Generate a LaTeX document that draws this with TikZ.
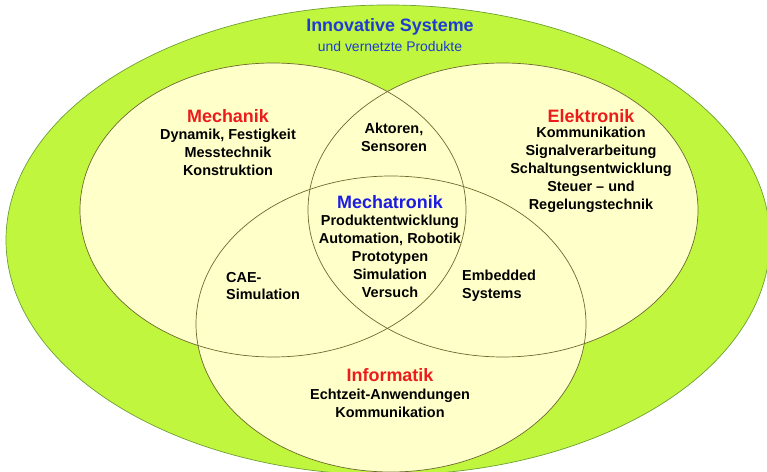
\documentclass[tikz,border=0pt]{standalone}
\usepackage{fontspec}
\setmainfont{Liberation Sans}
\usepackage{tikz}
\usetikzlibrary{shapes,backgrounds}

\definecolor{lime}{RGB}{192,246,62}
\definecolor{limeline}{RGB}{110,160,50}
\definecolor{cream}{RGB}{255,255,202}
\definecolor{olive}{RGB}{110,105,45}
\definecolor{titlered}{RGB}{236,28,28}
\definecolor{titleblue}{RGB}{28,28,226}
\definecolor{topblue}{RGB}{30,60,210}

\tikzset{
	field/.style={fill=cream},
	rim/.style={draw=olive,line width=0.7pt},
	head/.style={font=\fontsize{18}{21}\selectfont\bfseries,text=titlered,inner sep=0pt},
	body/.style={font=\fontsize{14.5}{18}\selectfont\bfseries,align=center,inner sep=0pt}
}

\begin{document}
\begin{tikzpicture}[x=1bp,y=-1bp]
		\useasboundingbox (0,0) rectangle (767,472);
		\clip (0,0) rectangle (767,472);

		% outer field
		\draw [fill=lime,draw=limeline,line width=0.7pt] (388,240) ellipse [x radius=382, y radius=235];

		% the three disciplines
		\fill [field] (273,210) ellipse [x radius=193, y radius=147];
		\fill [field] (503,210) ellipse [x radius=195, y radius=147];
		\fill [field] (391,324) ellipse [x radius=195, y radius=148];
		\draw [rim] (273,210) ellipse [x radius=193, y radius=147];
		\draw [rim] (503,210) ellipse [x radius=195, y radius=147];
		\draw [rim] (391,324) ellipse [x radius=195, y radius=148];

		\node [head,text=topblue] (innov) at (390,27) {Innovative Systeme};
		\node [font=\fontsize{14}{16}\selectfont,text=topblue,inner sep=0pt] (vernetzt) at (390,47) {und vernetzte Produkte};

		\node [head] (mech) at (228,116) {Mechanik};
		\node [body] (mechtxt) at (228,152) {Dynamik, Festigkeit\\Messtechnik\\Konstruktion};

		\node [head] (elek) at (591,116) {Elektronik};
		\node [body] (elektxt) at (591,170) {Kommunikation\\Signalverarbeitung\\Schaltungsentwicklung\\Steuer -- und\\Regelungstechnik};

		\node [body] (aktor) at (394,137) {Aktoren,\\Sensoren};

		\node [head,text=titleblue] (mechatr) at (390,202) {Mechatronik};
		\node [body] (mechatrtxt) at (390,256) {Produktentwicklung\\Automation, Robotik\\Prototypen\\Simulation\\Versuch};

		\node [body,align=left,anchor=west] (cae) at (226,286) {CAE-\\Simulation};
		\node [body,align=left,anchor=west] (embed) at (462,286) {Embedded\\Systems};

		\node [head] (info) at (390,375) {Informatik};
		\node [body] (infotxt) at (390,403) {Echtzeit-Anwendungen\\Kommunikation};
	\end{tikzpicture}
\end{document}
